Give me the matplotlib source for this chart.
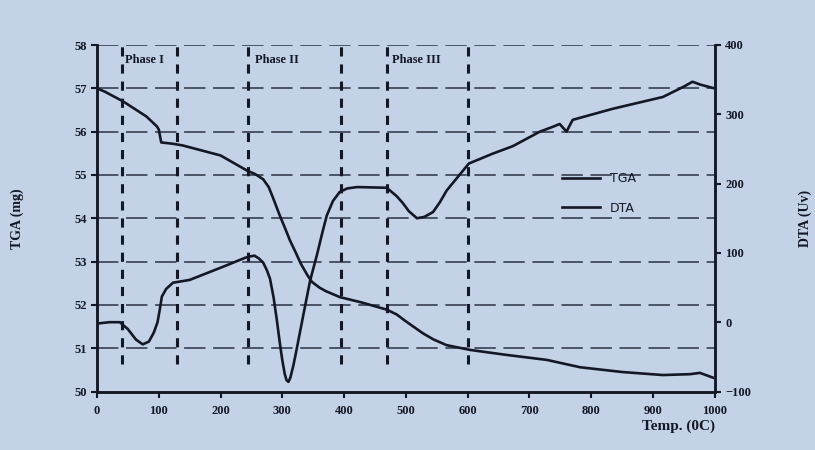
import matplotlib
matplotlib.use("Agg")
import matplotlib.pyplot as plt

# temperatures (C) and readings
tga_t = [0, 13, 42, 80, 97, 100, 104, 123, 139, 200, 243, 256, 269, 278, 285, 296, 305, 312,
         322, 330, 340, 348, 360, 370, 393, 430, 469, 485, 500, 515, 528, 545, 566, 604, 660,
         728, 782, 850, 916, 960, 976, 997]
tga_v = [57.0, 56.92, 56.70, 56.35, 56.12, 56.05, 55.75, 55.72, 55.68, 55.45, 55.10, 55.02,
         54.90, 54.72, 54.47, 54.06, 53.75, 53.50, 53.20, 52.95, 52.70, 52.53, 52.40, 52.32,
         52.18, 52.05, 51.89, 51.78, 51.62, 51.47, 51.34, 51.20, 51.07, 50.96, 50.85, 50.73,
         50.56, 50.45, 50.38, 50.40, 50.43, 50.32]

dta_t = [0, 20, 37, 50, 63, 74, 84, 92, 98, 102, 105, 112, 123, 150, 204, 240, 248, 255, 262,
         269, 275, 280, 286, 291, 296, 300, 304, 307, 310, 313, 318, 323, 328, 335, 345, 356,
         365, 372, 382, 393, 405, 421, 469, 485, 495, 505, 518, 530, 544, 555, 566, 602, 640,
         673, 717, 738, 749, 760, 770, 835, 916, 950, 964, 976, 997]
dta_v = [-2, 0, 0, -10, -25, -32, -28, -15, 0, 20, 37, 48, 57, 61, 80, 93, 95, 96, 92,
         86, 75, 63, 35, 4, -30, -55, -75, -84, -86, -80, -62, -40, -17, 15, 60, 97,
         130, 154, 175, 188, 193, 195, 194, 182, 172, 160, 150, 152, 159, 173, 190, 229, 243,
         254, 275, 282, 286, 275, 292, 308, 325, 340, 347, 343, 338]

phase_lines = [40, 130, 245, 395, 470, 600]
phase_names = ["Phase I", "Phase II", "Phase III"]
phase_label_x = [45, 255, 478]

tga_ticks = [50, 51, 52, 53, 54, 55, 56, 57, 58]
dta_ticks = [-100, 0, 100, 200, 300, 400]
x_ticks = list(range(0, 1001, 100))

bg = "#c3d2e7"
ink = "#141826"
serif = "Liberation Serif"

fig = plt.figure(figsize=(8.15, 4.5), dpi=100, facecolor=bg)
ax = fig.add_axes([0.119, 0.13, 0.758, 0.77])
ax.set_facecolor(bg)
ax2 = ax.twinx()

ax.set_xlim(0, 1000)
ax.set_ylim(50, 58)
ax2.set_ylim(-100, 400)

for g in tga_ticks[1:]:
    ax.axhline(g, color="#2b3244", lw=1.1, dashes=(14, 5), zorder=1)
for p in phase_lines:
    ax.axvline(p, ymin=0.08, ymax=1.0, color=ink, lw=2.2, dashes=(3, 2.6), zorder=2)

ax.plot(tga_t, tga_v, color=ink, lw=1.9, zorder=3, label="TGA")
ax2.plot(dta_t, dta_v, color=ink, lw=1.9, zorder=3, label="DTA")

for name, px in zip(phase_names, phase_label_x):
    ax.text(px, 57.65, name, fontsize=9, family=serif, fontweight="bold", color=ink,
            va="center", ha="left")

h1, l1 = ax.get_legend_handles_labels()
h2, l2 = ax2.get_legend_handles_labels()
leg = ax2.legend(h1 + h2, l1 + l2, loc="upper left", bbox_to_anchor=(0.735, 0.665),
                 frameon=False, handlelength=3.0, fontsize=9, labelspacing=1.3)
for t in leg.get_texts():
    t.set_color(ink)

ax.set_xticks(x_ticks)
ax.set_yticks(tga_ticks)
ax2.set_yticks(dta_ticks)
for a in (ax, ax2):
    a.spines["top"].set_visible(False)
    for s in ("left", "right", "bottom"):
        a.spines[s].set_color(ink)
        a.spines[s].set_linewidth(1.8)
    a.tick_params(colors=ink, width=1.5, length=4, labelsize=9)
    for lab in a.get_xticklabels() + a.get_yticklabels():
        lab.set_family(serif)
        lab.set_fontweight("bold")
ax.tick_params(axis="x", pad=6)

ax.set_ylabel("TGA (mg)", family=serif, fontweight="bold", fontsize=10, color=ink, labelpad=36)
ax2.set_ylabel("DTA (Uv)", family=serif, fontweight="bold", fontsize=10, color=ink,
               rotation=90, labelpad=34)
ax.text(1.0, -0.1, "Temp. (0C)", transform=ax.transAxes, ha="right", va="center",
        family=serif, fontweight="bold", fontsize=11, color=ink)

fig.savefig("out.png", dpi=100, facecolor=bg)
